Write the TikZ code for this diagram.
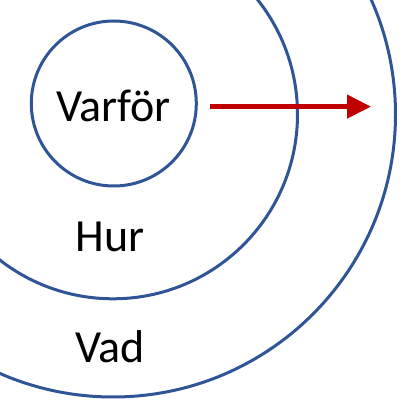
\documentclass[tikz,border=0pt]{standalone}
\usepackage{fontspec}
\setmainfont{Carlito}
\usetikzlibrary{arrows.meta}
\definecolor{ringblue}{HTML}{2F5597}
\definecolor{arrowred}{HTML}{C00000}
\tikzset{
  ring/.style={draw=ringblue, line width=3pt, circle, inner sep=0pt, outer sep=0pt},
  label text/.style={font=\fontsize{46}{50}\selectfont, anchor=base, inner sep=0pt},
  redarrow/.style={draw=arrowred, line width=4.5pt, -{Triangle[length=24pt,width=23pt]}}
}
\begin{document}
\begin{tikzpicture}[x=1pt,y=-1pt]
\useasboundingbox (0,0) rectangle (413,411);
\begin{scope}
\clip (0,0) rectangle (413,411);
\node[ring, minimum size=565pt] (vad) at (113,114.5) {};
\node[ring, minimum size=369pt] (hur) at (113,114.3) {};
\node[ring, minimum size=165pt] (varfor) at (113.8,103.5) {};
\end{scope}
\node[label text] (tvarfor) at (113.5,121.7) {Varför};
\node[label text] (thur) at (110,251.7) {Hur};
\node[label text] (tvad) at (110,362.7) {Vad};
\coordinate (astart) at (210,106.6);
\coordinate (aend) at (371,106.6);
\draw[redarrow] (astart) -- (aend);
\end{tikzpicture}
\end{document}
